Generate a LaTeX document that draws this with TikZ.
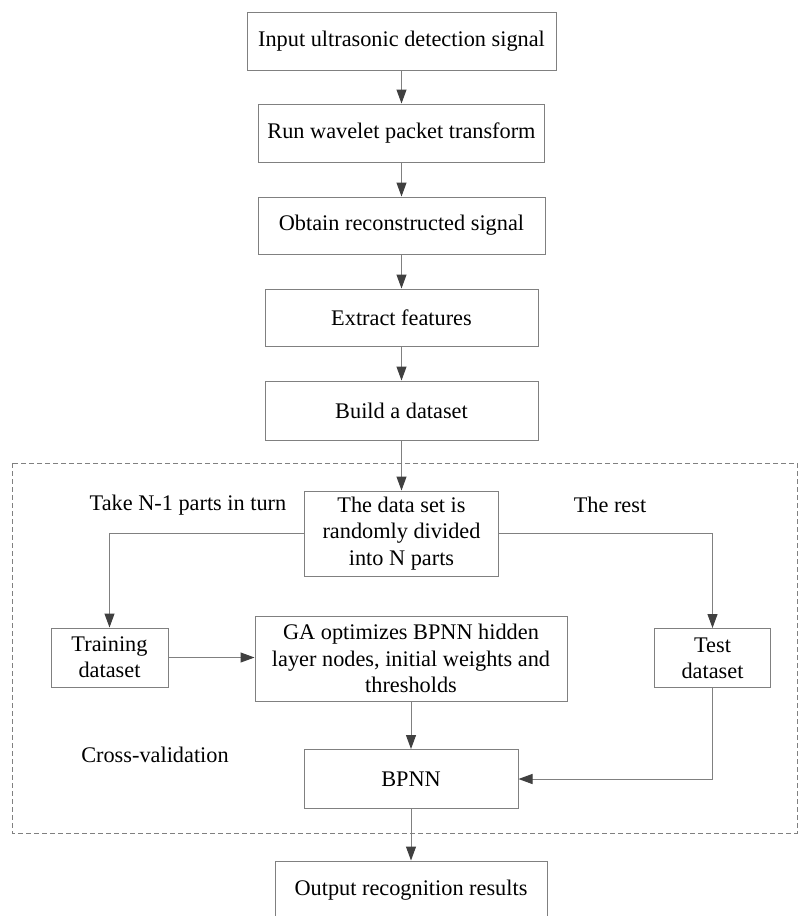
\documentclass[tikz,border=0pt]{standalone}
\usepackage{fontspec}
\setmainfont{Liberation Serif}
\usepackage{xcolor}
\usetikzlibrary{arrows.meta,positioning}
\definecolor{linegray}{HTML}{808080}
\definecolor{tipgray}{HTML}{404040}

\begin{document}
\begin{tikzpicture}[
  x=1pt, y=-1pt,
  font=\fontsize{22.3}{26.2}\selectfont,
  box/.style={draw=linegray, line width=1pt, align=center, inner sep=2pt},
  arr/.style={-{Triangle[length=14pt, width=10pt, color=tipgray]}, line width=1pt, draw=linegray},
  lbl/.style={inner sep=0pt}
]
\clip (0,0) rectangle (799,916);
\fill[white] (0,0) rectangle (799,916);
% main chain
\node[box, minimum width=309pt, minimum height=58pt] (input) at (401.5,41) {Input ultrasonic detection signal};
\node[box, minimum width=286pt, minimum height=58pt] (wpt) at (401.5,133) {Run wavelet packet transform};
\node[box, minimum width=287pt, minimum height=57pt] (recon) at (401.5,225.5) {Obtain reconstructed signal};
\node[box, minimum width=273pt, minimum height=57pt] (feat) at (401.5,317.5) {Extract features};
\node[box, minimum width=273pt, minimum height=59pt] (build) at (401.5,410.5) {Build a dataset};
% cross-validation block
\draw[linegray, line width=0.8pt, dash pattern=on 5pt off 3pt] (12,463) rectangle (797,833);
\node[box, minimum width=194pt, minimum height=85pt] (split) at (401.5,533.5) {The data set is\\randomly divided\\into N parts};
\node[box, minimum width=117pt, minimum height=59pt] (train) at (109.5,657.5) {Training\\dataset};
\node[box, minimum width=312pt, minimum height=85pt] (ga) at (411,658.5) {GA optimizes BPNN hidden\\layer nodes, initial weights and\\thresholds};
\node[box, minimum width=116pt, minimum height=59pt] (test) at (712.5,658) {Test\\dataset};
\node[box, minimum width=214pt, minimum height=59pt] (bpnn) at (411,779) {BPNN};
\node[box, minimum width=272pt, minimum height=58pt] (out) at (411,890) {Output recognition results};
\node[lbl] (take) at (188,505) {Take N-1 parts in turn};
\node[lbl] (rest) at (610,505) {The rest};
\node[lbl] (cv) at (155,755) {Cross-validation};
% connectors
\draw[arr] (input) -- (wpt);
\draw[arr] (wpt) -- (recon);
\draw[arr] (recon) -- (feat);
\draw[arr] (feat) -- (build);
\draw[arr] (build) -- (split);
\draw[arr] (split.west) -| (train.north);
\draw[arr] (split.east) -| (test.north);
\draw[arr] (train.east) -- (train.east -| ga.west);
\draw[arr] (ga) -- (bpnn);
\draw[arr] (test.south) |- (bpnn.east);
\draw[arr] (bpnn) -- (out);
\end{tikzpicture}
\end{document}
